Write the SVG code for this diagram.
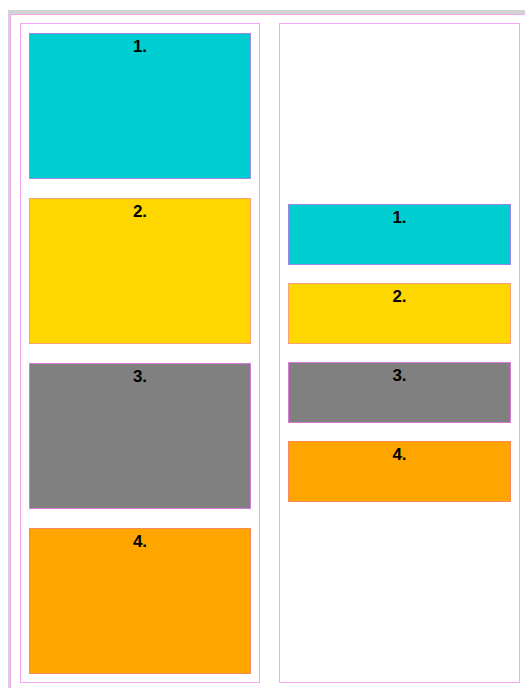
<svg xmlns="http://www.w3.org/2000/svg" width="525" height="688" viewBox="0 0 525 688">
<style>
.frame{fill:none;stroke:#f7a6f7;stroke-width:1}
.lbl{font-family:"Liberation Sans",Arial,sans-serif;font-weight:bold;font-size:17px;fill:#000;text-anchor:middle}
.c1{fill:#00ced1;stroke:#9a86e6}
.c2{fill:#ffd700;stroke:#f7a27a}
.c3{fill:#808080;stroke:#d77ad7}
.c4{fill:#ffa500;stroke:#f58a5a}
</style>
<rect x="0" y="0" width="525" height="688" fill="#fff"/>
<rect x="8" y="10" width="517" height="678" fill="#d3d3d3"/>
<rect x="10" y="14" width="515" height="674" fill="#fff"/>
<rect class="frame" x="10.5" y="14.5" width="530" height="690"/>
<g id="column-left">
<rect class="frame" x="20.5" y="23.5" width="239" height="659"/>
</g>
<g id="column-right">
<rect class="frame" x="279.5" y="23.5" width="240" height="659"/>
</g>
<g id="left-1"><rect class="c1" x="29.5" y="33.5" width="221" height="145"/><text class="lbl" x="140" y="52">1.</text></g>
<g id="left-2"><rect class="c2" x="29.5" y="198.5" width="221" height="145"/><text class="lbl" x="140" y="217">2.</text></g>
<g id="left-3"><rect class="c3" x="29.5" y="363.5" width="221" height="145"/><text class="lbl" x="140" y="382">3.</text></g>
<g id="left-4"><rect class="c4" x="29.5" y="528.5" width="221" height="145"/><text class="lbl" x="140" y="547">4.</text></g>
<g id="right-1"><rect class="c1" x="288.5" y="204.5" width="222" height="60"/><text class="lbl" x="399.5" y="223">1.</text></g>
<g id="right-2"><rect class="c2" x="288.5" y="283.5" width="222" height="60"/><text class="lbl" x="399.5" y="302">2.</text></g>
<g id="right-3"><rect class="c3" x="288.5" y="362.5" width="222" height="60"/><text class="lbl" x="399.5" y="381">3.</text></g>
<g id="right-4"><rect class="c4" x="288.5" y="441.5" width="222" height="60"/><text class="lbl" x="399.5" y="460">4.</text></g>
<g id="connectors"></g>
</svg>
